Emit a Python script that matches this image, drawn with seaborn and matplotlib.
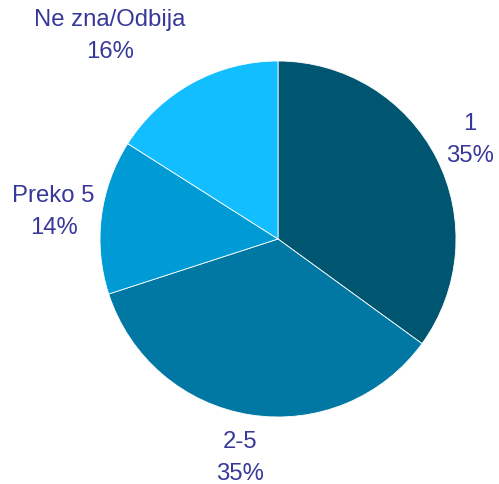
import matplotlib
matplotlib.use("Agg")
import matplotlib.pyplot as plt
import seaborn as sns
import numpy as np

categories = ["1", "2-5", "Preko 5", "Ne zna/Odbija"]
values = [35, 35, 14, 16]
colors = ["#005670", "#0078A3", "#009BD4", "#12BEFF"]
label_pos = [(1.08, 0.56), (-0.213, -1.225), (-1.26, 0.157), (-0.944, 1.146)]

sns.set_style("white")
plt.rcParams['font.family'] = ['Liberation Sans', 'DejaVu Sans']

fig = plt.figure(figsize=(4.99, 4.85), dpi=100)
cx, cy, r = 278, 240, 178
ax = fig.add_axes([(cx - r) / 499, (485 - cy - r) / 485, 2 * r / 499, 2 * r / 485])
ax.pie(values, colors=colors, startangle=90, counterclock=False,
       wedgeprops=dict(linewidth=0.6, edgecolor="white"))
ax.set_xlim(-1, 1)
ax.set_ylim(-1, 1)
ax.set_aspect('auto')
for cat, v, (x, y) in zip(categories, values, label_pos):
    ax.text(x, y, f"{cat}\n{v}%", ha="center", va="center", fontsize=17.2,
            color="#38389A", linespacing=1.58, clip_on=False)
ax.axis('off')
fig.savefig("out.png", dpi=100)
